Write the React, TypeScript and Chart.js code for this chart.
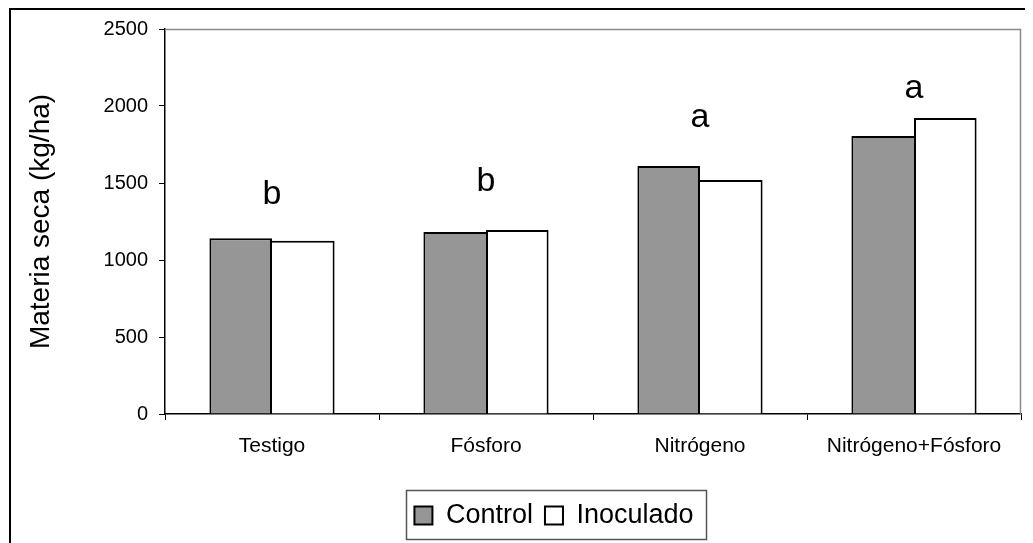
import React, { useEffect, useRef } from "react";
import { Chart, registerables } from "chart.js";

Chart.register(...registerables);

const categories = ["Testigo", "Fósforo", "Nitrógeno", "Nitrógeno+Fósforo"];
const controlValues = [1141, 1182, 1610, 1805];
const inoculadoValues = [1125, 1195, 1519, 1922];
const groupLetters = ["b", "b", "a", "a"];
const letterBaselines = [1364, 1445, 1866, 2050];
const yTickValues = [0, 500, 1000, 1500, 2000, 2500];
const seriesNames = ["Control", "Inoculado"];

const FONT = "'Liberation Sans', Arial, Helvetica, sans-serif";
const GRAY = "#969696";

const decorPlugin = {
  id: "decor",
  afterLayout(chart: any) {
    const lg = chart.legend;
    if (lg) {
      const shift = 38;
      lg.left += shift;
      lg.right += shift;
    }
  },
  beforeDatasetsDraw(chart: any) {
    const { ctx, chartArea: a } = chart;
    ctx.save();
    ctx.strokeStyle = "#8a8a8a";
    ctx.lineWidth = 1.5;
    ctx.beginPath();
    ctx.moveTo(a.left, a.top + 0.5);
    ctx.lineTo(a.right - 0.5, a.top + 0.5);
    ctx.lineTo(a.right - 0.5, a.bottom);
    ctx.stroke();
    ctx.restore();
  },
  afterDraw(chart: any) {
    const { ctx } = chart;
    const xs = chart.scales.x;
    const ys = chart.scales.y;
    ctx.save();
    ctx.fillStyle = "#000";
    ctx.font = `34px ${FONT}`;
    ctx.textAlign = "center";
    ctx.textBaseline = "alphabetic";
    groupLetters.forEach((l, i) => {
      ctx.fillText(l, xs.getPixelForValue(i), ys.getPixelForValue(letterBaselines[i]));
    });
    const lg = chart.legend;
    if (lg && lg.legendHitBoxes && lg.legendHitBoxes.length) {
      const hb = lg.legendHitBoxes;
      let l = Infinity, r = -Infinity, t = Infinity, b = -Infinity;
      hb.forEach((h: any) => {
        l = Math.min(l, h.left);
        r = Math.max(r, h.left + h.width);
        t = Math.min(t, h.top);
        b = Math.max(b, h.top + h.height);
      });
      ctx.strokeStyle = "#555";
      ctx.lineWidth = 1.5;
      ctx.strokeRect(Math.round(l - 8) + 0.5, Math.round(t - 12.5) + 0.5, Math.round(r - l + 21), Math.round(b - t + 22));
    }
    ctx.restore();
  },
};

export default function App() {
  const ref = useRef<HTMLCanvasElement | null>(null);
  useEffect(() => {
    if (!ref.current) return;
    const chart = new Chart(ref.current, {
      type: "bar",
      data: {
        labels: categories,
        datasets: [
          {
            label: seriesNames[0],
            data: controlValues,
            backgroundColor: GRAY,
            borderColor: "#000",
            borderSkipped: false,
            borderWidth: (c: any) => {
              const i = c.dataIndex;
              return { top: 2, left: 2, bottom: 0, right: controlValues[i] > inoculadoValues[i] ? 2 : 0 };
            },
            categoryPercentage: 0.585,
            barPercentage: 1,
          } as any,
          {
            label: seriesNames[1],
            data: inoculadoValues,
            backgroundColor: "#fff",
            borderColor: "#000",
            borderSkipped: false,
            borderWidth: (c: any) => {
              const i = c.dataIndex;
              return { top: 2, right: 2, bottom: 0, left: inoculadoValues[i] >= controlValues[i] ? 2 : 0 };
            },
            categoryPercentage: 0.585,
            barPercentage: 1,
          } as any,
        ],
      },
      options: {
        animation: false,
        responsive: false,
        events: [],
        layout: { padding: { top: 19, right: 12, bottom: 4, left: 0 } },
        plugins: {
          tooltip: { enabled: false },
          legend: {
            position: "bottom",
            labels: {
              font: { family: FONT, size: 27 },
              color: "#000",
              boxWidth: 18,
              boxHeight: 18,
              padding: 12,
              generateLabels: () =>
                seriesNames.map((n, i) => ({
                  text: n,
                  fillStyle: i === 0 ? GRAY : "#fff",
                  strokeStyle: "#000",
                  lineWidth: 2,
                  datasetIndex: i,
                  hidden: false,
                })),
            },
          },
        },
        scales: {
          x: {
            offset: true,
            grid: { display: true, drawOnChartArea: false, drawTicks: true, tickLength: 6, color: "#000", offset: true },
            border: { display: true, color: "#000", width: 1.5 },
            ticks: { font: { family: FONT, size: 21 }, color: "#000", padding: 14, maxRotation: 0 },
            afterFit: (s: any) => {
              s.height = 76;
            },
          },
          y: {
            min: 0,
            max: 2500,
            afterBuildTicks: (s: any) => {
              s.ticks = yTickValues.map((v) => ({ value: v }));
            },
            grid: { display: true, drawOnChartArea: false, drawTicks: true, tickLength: 6, color: "#000" },
            border: { display: true, color: "#000", width: 1.5 },
            ticks: {
              font: { family: FONT, size: 20 },
              color: "#000",
              padding: 11,
              callback: (v: any) => String(v),
            },
            title: {
              display: true,
              text: "Materia seca (kg/ha)",
              font: { family: FONT, size: 28 },
              color: "#000",
              padding: { top: 13, bottom: 0 },
            },
            afterFit: (s: any) => {
              s.width = 154;
              s.paddingTop = 0;
              s.paddingBottom = 0;
            },
          },
        },
      },
      plugins: [decorPlugin],
    } as any);
    return () => chart.destroy();
  }, []);
  return (
    <div
      style={{
        position: "relative",
        width: 1025,
        height: 535,
        boxSizing: "border-box",
        borderTop: "2px solid #000",
        borderLeft: "2px solid #000",
        marginLeft: 1,
      }}
    >
      <canvas ref={ref} width={1022} height={533} style={{ display: "block" }} />
    </div>
  );
}
